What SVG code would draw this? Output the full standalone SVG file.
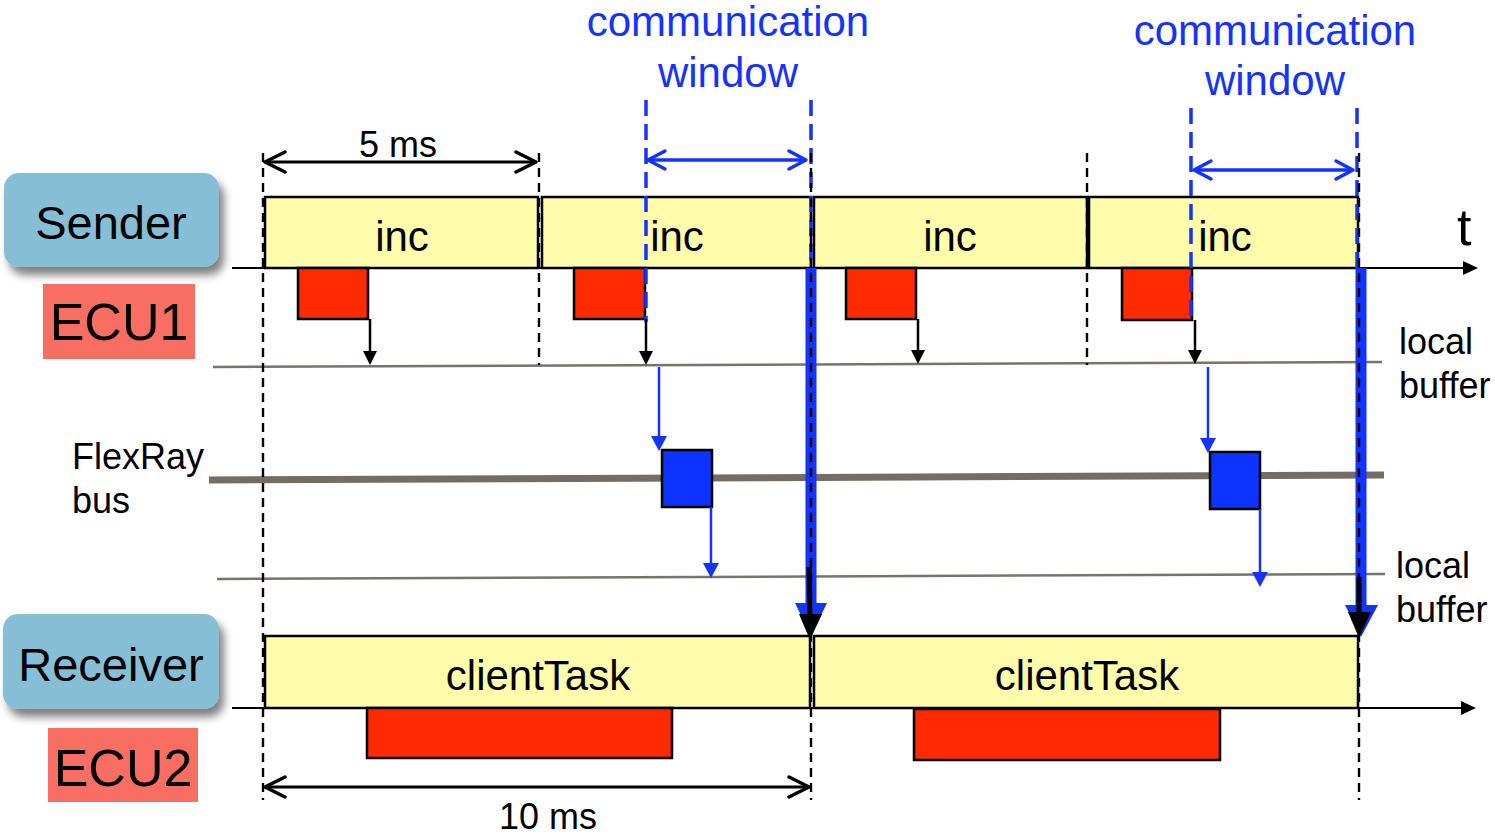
<svg xmlns="http://www.w3.org/2000/svg" width="1495" height="837" viewBox="0 0 1495 837">
<style>
text{font-family:"Liberation Sans",Arial,sans-serif;fill:#000}
.blue{fill:#1533ff}
.role{fill:#86bed6}
.ecu{fill:#f86e62}
.inc{fill:#fffcac;stroke:#000;stroke-width:2.5}
.task{fill:#ff2a00;stroke:#000;stroke-width:2.5}
.frame{fill:#0f33ff;stroke:#000;stroke-width:2.5}
.dash{stroke:#000;stroke-width:2.4;stroke-dasharray:9 6;fill:none}
.bdash{stroke:#1533ff;stroke-width:3.5;stroke-dasharray:16 8;fill:none}
.axis{stroke:#000;stroke-width:2;fill:none}
.buf{stroke:#7a736b;stroke-width:2.5;fill:none}
.bus{stroke:#756c63;stroke-width:7;fill:none}
.karr{stroke:#000;stroke-width:2.5;fill:none}
.barr{stroke:#1533ff;stroke-width:2.5;fill:none}
.dim{stroke:#000;stroke-width:3;fill:none}
.bdim{stroke:#1533ff;stroke-width:3.5;fill:none}
</style>
<defs>
<filter id="shadow" x="-20%" y="-20%" width="150%" height="160%">
<feDropShadow dx="5" dy="8" stdDeviation="4" flood-color="#000" flood-opacity="0.5"/>
</filter>
<marker id="ahK" markerUnits="userSpaceOnUse" viewBox="0 0 14 14" markerWidth="14" markerHeight="14" refX="0" refY="7" orient="auto"><path d="M0,0 L14,7 L0,14 z" fill="#000"/></marker>
<marker id="ahAxis" markerUnits="userSpaceOnUse" viewBox="0 0 15 14" markerWidth="15" markerHeight="14" refX="0" refY="7" orient="auto"><path d="M0,0 L15,7 L0,14 z" fill="#000"/></marker>
<marker id="ahB" markerUnits="userSpaceOnUse" viewBox="0 0 15 16" markerWidth="15" markerHeight="16" refX="0" refY="8" orient="auto"><path d="M0,0 L15,8 L0,16 z" fill="#1533ff"/></marker>
<marker id="chevK" markerUnits="userSpaceOnUse" viewBox="-22 -13 26 26" markerWidth="26" markerHeight="26" refX="0" refY="0" orient="auto-start-reverse"><path d="M-20,-10 L0,0 L-20,10" fill="none" stroke="#000" stroke-width="3.5" stroke-linecap="round" stroke-linejoin="round"/></marker>
<marker id="chevB" markerUnits="userSpaceOnUse" viewBox="-20 -12 24 24" markerWidth="24" markerHeight="24" refX="0" refY="0" orient="auto-start-reverse"><path d="M-17,-9 L0,0 L-17,9" fill="none" stroke="#1533ff" stroke-width="3.5" stroke-linecap="round" stroke-linejoin="round"/></marker>
</defs>

<rect width="1495" height="837" fill="#fff"/>

<!-- background lines -->
<g id="lines">
<line class="buf" x1="213" y1="367" x2="1382" y2="362"/>
<line class="bus" x1="209" y1="480" x2="1384" y2="475"/>
<line class="buf" x1="217" y1="579" x2="1385" y2="574"/>
<line class="axis" x1="232" y1="268" x2="1463" y2="268" marker-end="url(#ahAxis)"/>
<line class="axis" x1="232" y1="708" x2="1461" y2="708" marker-end="url(#ahAxis)"/>
</g>

<!-- labels -->
<g id="sender">
<rect class="role" x="4" y="173" width="215" height="94" rx="15" filter="url(#shadow)"/>
<text x="111" y="239" font-size="47" text-anchor="middle">Sender</text>
</g>
<g id="ecu1">
<rect class="ecu" x="43" y="284" width="152" height="75"/>
<text x="119" y="340" font-size="52" text-anchor="middle">ECU1</text>
</g>
<g id="receiver">
<rect class="role" x="3" y="614" width="216" height="95" rx="15" filter="url(#shadow)"/>
<text x="111" y="681" font-size="47" text-anchor="middle">Receiver</text>
</g>
<g id="ecu2">
<rect class="ecu" x="48" y="728" width="150" height="74"/>
<text x="123" y="786" font-size="52" text-anchor="middle">ECU2</text>
</g>
<g id="flexray-label">
<text x="72" y="469" font-size="36">FlexRay</text>
<text x="72" y="513" font-size="36">bus</text>
</g>
<g id="buffer-labels">
<text x="1399" y="354" font-size="36">local</text>
<text x="1399" y="398" font-size="36">buffer</text>
<text x="1396" y="578" font-size="36">local</text>
<text x="1396" y="622" font-size="36">buffer</text>
</g>
<text id="t-label" x="1457" y="245" font-size="52">t</text>

<!-- inc tasks -->
<g id="inc1"><rect class="inc" x="265" y="197" width="273" height="71"/><text x="402" y="251" font-size="42" text-anchor="middle">inc</text></g>
<g id="inc2"><rect class="inc" x="542" y="197" width="269" height="71"/><text x="677" y="251" font-size="42" text-anchor="middle">inc</text></g>
<g id="inc3"><rect class="inc" x="814" y="197" width="273" height="71"/><text x="950" y="251" font-size="42" text-anchor="middle">inc</text></g>
<g id="inc4"><rect class="inc" x="1089" y="197" width="269" height="71"/><text x="1225" y="251" font-size="42" text-anchor="middle">inc</text></g>

<!-- ECU1 executions -->
<g id="exec1"><rect class="task" x="298" y="268" width="70" height="51"/></g>
<g id="exec2"><rect class="task" x="574" y="268" width="71" height="51"/></g>
<g id="exec3"><rect class="task" x="846" y="268" width="70" height="51"/></g>
<g id="exec4"><rect class="task" x="1122" y="268" width="70" height="52"/></g>

<!-- frames -->
<g id="frame1"><rect class="frame" x="662" y="450" width="50" height="57"/></g>
<g id="frame2"><rect class="frame" x="1210" y="452" width="50" height="57"/></g>

<!-- clientTask -->
<g id="client1"><rect class="inc" x="265" y="636" width="545" height="72"/><text x="538" y="690" font-size="42" text-anchor="middle">clientTask</text></g>
<g id="client2"><rect class="inc" x="814" y="636" width="544" height="72"/><text x="1087" y="690" font-size="42" text-anchor="middle">clientTask</text></g>
<g id="exec5"><rect class="task" x="367" y="708" width="305" height="50"/></g>
<g id="exec6"><rect class="task" x="914" y="709" width="306" height="51"/></g>

<!-- connectors -->
<g id="connectors">
<line class="dash" x1="263" y1="153" x2="263" y2="800"/>
<line class="dash" x1="539" y1="153" x2="539" y2="365"/>
<line class="dash" x1="1087" y1="153" x2="1087" y2="365"/>
<line class="bdash" x1="646" y1="100" x2="646" y2="322"/>
<line class="bdash" x1="1191" y1="108" x2="1191" y2="322"/>
<line class="bdash" x1="811" y1="100" x2="811" y2="268"/>
<line class="bdash" x1="1357" y1="108" x2="1357" y2="268"/>

<line stroke="#1533ff" stroke-width="11" x1="811" y1="268" x2="811" y2="604"/>
<line stroke="#1533ff" stroke-width="11" x1="1361" y1="268" x2="1361" y2="606"/>
<line class="dash" x1="811" y1="153" x2="811" y2="800"/>
<line class="dash" x1="1359" y1="153" x2="1359" y2="800"/>
<polygon points="795,603 827,603 811,636" fill="#1533ff"/>
<polygon points="1345,605 1378,605 1361,637" fill="#1533ff"/>
<line stroke="#000" stroke-width="5" x1="809" y1="567" x2="810" y2="616"/>
<polygon points="799,614 822,614 810,640" fill="#000"/>
<line stroke="#000" stroke-width="5" x1="1359" y1="577" x2="1359" y2="614"/>
<polygon points="1348,612 1371,612 1359,638" fill="#000"/>

<line class="karr" x1="370" y1="319" x2="370" y2="351" marker-end="url(#ahK)"/>
<line class="karr" x1="646" y1="319" x2="646" y2="351" marker-end="url(#ahK)"/>
<line class="karr" x1="918" y1="319" x2="918" y2="350" marker-end="url(#ahK)"/>
<line class="karr" x1="1195" y1="320" x2="1195" y2="350" marker-end="url(#ahK)"/>

<line class="barr" x1="659" y1="367" x2="659" y2="436" marker-end="url(#ahB)"/>
<line class="barr" x1="711" y1="507" x2="711" y2="563" marker-end="url(#ahB)"/>
<line class="barr" x1="1208" y1="367" x2="1208" y2="438" marker-end="url(#ahB)"/>
<line class="barr" x1="1260" y1="509" x2="1260" y2="572" marker-end="url(#ahB)"/>

<line class="dim" x1="265" y1="162" x2="536" y2="162" marker-start="url(#chevK)" marker-end="url(#chevK)"/>
<line class="dim" x1="265" y1="787" x2="809" y2="787" marker-start="url(#chevK)" marker-end="url(#chevK)"/>
<line class="bdim" x1="648" y1="160" x2="806" y2="160" marker-start="url(#chevB)" marker-end="url(#chevB)"/>
<line class="bdim" x1="1194" y1="170" x2="1353" y2="170" marker-start="url(#chevB)" marker-end="url(#chevB)"/>
</g>

<g id="dimension-labels">
<text x="398" y="157" font-size="36" text-anchor="middle">5 ms</text>
<text x="548" y="829" font-size="36" text-anchor="middle">10 ms</text>
<text class="blue" x="728" y="36" font-size="42" text-anchor="middle">communication</text>
<text class="blue" x="728" y="87" font-size="42" text-anchor="middle">window</text>
<text class="blue" x="1275" y="45" font-size="42" text-anchor="middle">communication</text>
<text class="blue" x="1275" y="95" font-size="42" text-anchor="middle">window</text>
</g>
</svg>
